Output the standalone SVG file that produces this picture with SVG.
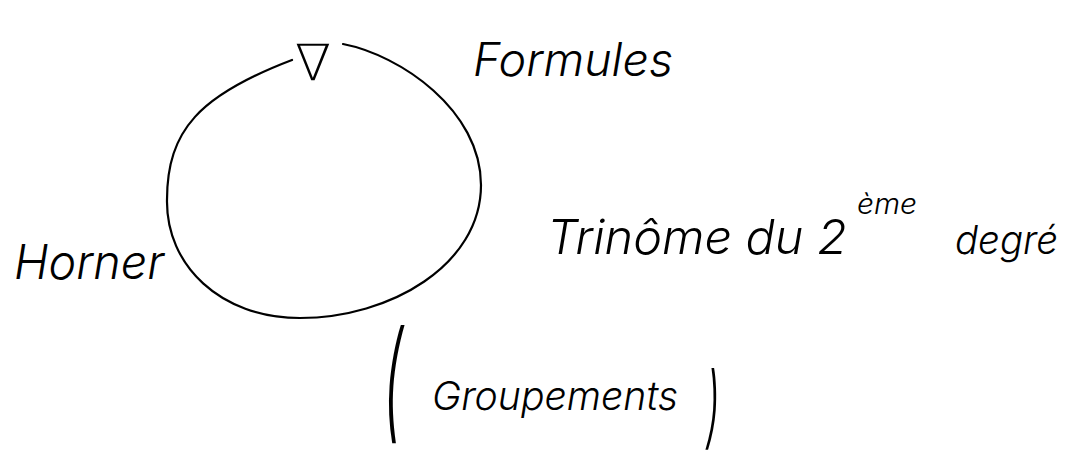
<svg xmlns="http://www.w3.org/2000/svg" width="1091" height="461" viewBox="0 0 1091 461">
<style>
.hw{font-family:"Inter","Liberation Sans",sans-serif;font-weight:300;font-style:italic;fill:#000}
.ink{fill:none;stroke:#000;stroke-width:2.2;stroke-linecap:round;stroke-linejoin:round}
</style>
<rect width="1091" height="461" fill="#fff"/>
<g id="connectors">
<path class="ink" d="M292,60 C200,95 167,130 167,200 C166,265 220,318 300,318 C390,318 481,265 481,185 C481,110 400,55 343,44"/>
</g>
<g id="nabla">
<text x="295" y="80" font-family="DejaVu Sans, sans-serif" font-weight="300" font-size="50" textLength="36" lengthAdjust="spacingAndGlyphs">∇</text>
</g>
<g id="formules">
<text class="hw" x="473" y="76" font-size="46" textLength="200" lengthAdjust="spacingAndGlyphs">Formules</text>
</g>
<g id="horner">
<text class="hw" x="14" y="279" font-size="48" textLength="150" lengthAdjust="spacingAndGlyphs">Horner</text>
</g>
<g id="trinome">
<text class="hw" x="547" y="254" font-size="48" textLength="300" lengthAdjust="spacingAndGlyphs">Trinôme du 2</text>
<text class="hw" x="857" y="214" font-size="28" textLength="60" lengthAdjust="spacingAndGlyphs">ème</text>
<text class="hw" x="955" y="254" font-size="40" textLength="103" lengthAdjust="spacingAndGlyphs">degré</text>
</g>
<g id="groupements">
<text class="hw" x="383" y="425" font-size="130" textLength="20" lengthAdjust="spacingAndGlyphs">(</text>
<text class="hw" x="432" y="410" font-size="40" textLength="246" lengthAdjust="spacingAndGlyphs">Groupements</text>
<text class="hw" x="706" y="437" font-size="90" textLength="14" lengthAdjust="spacingAndGlyphs">)</text>
</g>
</svg>
